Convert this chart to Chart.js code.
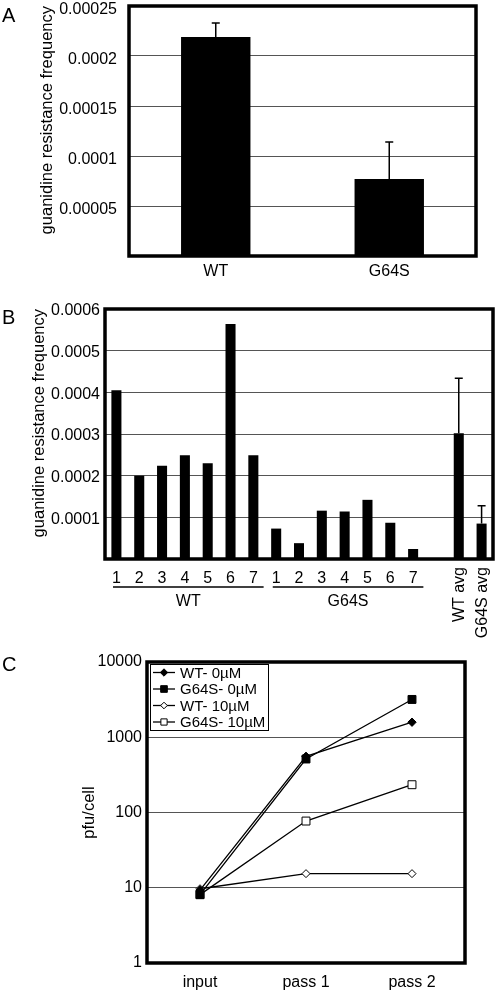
<!DOCTYPE html>
<html>
<head>
<meta charset="utf-8">
<script src="https://cdn.jsdelivr.net/npm/chart.js@4.4.1/dist/chart.umd.min.js"></script>
<style>
  body { margin: 0; background: #fff; width: 497px; height: 993px; position: relative; overflow: hidden; font-family: "Liberation Sans", Arial, sans-serif; }
  canvas { position: absolute; left: 0; }
  .letter { position: absolute; left: 2px; font-size: 20px; line-height: 1; color: #000; }
</style>
</head>
<body>
<canvas id="chartA" width="497" height="290" style="top:0px"></canvas>
<canvas id="chartB" width="497" height="340" style="top:300px"></canvas>
<canvas id="chartC" width="497" height="358" style="top:635px"></canvas>
<div class="letter" style="top:5px">A</div>
<div class="letter" style="top:307px">B</div>
<div class="letter" style="top:654px">C</div>

<script>
// panel A
const aCategories = ["WT", "G64S"];
const aMeans = [0.000219, 0.000077];
const aErrors = [0.000014, 0.000037];
const aTicks = [0.00005, 0.0001, 0.00015, 0.0002, 0.00025];
const aTickLabels = ["0.00005", "0.0001", "0.00015", "0.0002", "0.00025"];

// panel B
const bLabels = ["1", "2", "3", "4", "5", "6", "7", "1", "2", "3", "4", "5", "6", "7", "", "WT avg", "G64S avg"];
const bValues = [0.000405, 0.0002, 0.000224, 0.000249, 0.00023, 0.000564, 0.000249,
                 0.000073, 0.000038, 0.000116, 0.000114, 0.000142, 0.000087, 0.000024,
                 null, 0.000302, 0.000085];
const bErrors = [null, null, null, null, null, null, null, null, null, null, null, null, null, null, null, 0.000132, 0.000043];
const bGroups = [{ label: "WT", from: 0, to: 6 }, { label: "G64S", from: 7, to: 13 }];
const bTicks = [0.0001, 0.0002, 0.0003, 0.0004, 0.0005, 0.0006];
const bTickLabels = ["0.0001", "0.0002", "0.0003", "0.0004", "0.0005", "0.0006"];

// panel C
const cLabels = ["input", "pass 1", "pass 2"];
const wt0 = [9.3, 558, 1585];
const g64s0 = [8.1, 514, 3180];
const wt10 = [9.7, 15.4, 15.4];
const g64s10 = [8.1, 77, 234];
const cTicks = [1, 10, 100, 1000, 10000];
const cTickLabels = ["1", "10", "100", "1000", "10000"];

Chart.defaults.font.family = '"Liberation Sans", Arial, sans-serif';
Chart.defaults.font.size = 16;
Chart.defaults.color = "#000";

const gridColor = "#555";
const titleFont = { size: 16.5 };

// keep the axis boxes at fixed sizes so the plot areas line up with the figure
function fixWidth(w) {
  return s => { s.width = w; s.paddingTop = 0; s.paddingBottom = 0; };
}
function fixHeight(h) {
  return s => { s.height = h; s.paddingLeft = 0; s.paddingRight = 0; };
}
function setTicks(values) {
  return s => { s.ticks = values.map(v => ({ value: v })); };
}

const frame = {
  id: "frame",
  afterDatasetsDraw(chart) {
    const { ctx, chartArea: a } = chart;
    ctx.save();
    ctx.strokeStyle = "#000";
    ctx.lineWidth = 3.5;
    ctx.strokeRect(a.left, a.top, a.right - a.left, a.bottom - a.top);
    ctx.restore();
  }
};

function errorBars(errors) {
  return {
    id: "errorBars",
    afterDatasetsDraw(chart) {
      const meta = chart.getDatasetMeta(0);
      const y = chart.scales.y;
      const values = chart.data.datasets[0].data;
      const ctx = chart.ctx;
      ctx.save();
      ctx.strokeStyle = "#000";
      ctx.lineWidth = 1.5;
      meta.data.forEach((bar, i) => {
        if (errors[i] == null || values[i] == null) return;
        const top = y.getPixelForValue(values[i] + errors[i]);
        ctx.beginPath();
        ctx.moveTo(bar.x, bar.y);
        ctx.lineTo(bar.x, top);
        ctx.moveTo(bar.x - 4, top);
        ctx.lineTo(bar.x + 4, top);
        ctx.stroke();
      });
      ctx.restore();
    }
  };
}

// group underlines + rotated avg labels under panel B
const groupLabels = {
  id: "groupLabels",
  afterDraw(chart) {
    const { ctx, chartArea: a } = chart;
    const x = chart.scales.x;
    const slot = x.getPixelForValue(1) - x.getPixelForValue(0);
    ctx.save();
    ctx.strokeStyle = "#000";
    ctx.fillStyle = "#000";
    ctx.lineWidth = 1.5;
    ctx.font = '16px "Liberation Sans", Arial, sans-serif';
    bGroups.forEach(g => {
      const x1 = x.getPixelForValue(g.from) - 0.15 * slot;
      const x2 = x.getPixelForValue(g.to) + 0.45 * slot;
      ctx.beginPath();
      ctx.moveTo(x1, a.bottom + 28);
      ctx.lineTo(x2, a.bottom + 28);
      ctx.stroke();
      ctx.textAlign = "center";
      ctx.textBaseline = "middle";
      ctx.fillText(g.label, (x1 + x2) / 2, a.bottom + 43);
    });
    bLabels.forEach((lab, i) => {
      if (lab.length < 2) return;
      ctx.save();
      ctx.translate(x.getPixelForValue(i) + 1, a.bottom + 8);
      ctx.rotate(-Math.PI / 2);
      ctx.textAlign = "right";
      ctx.textBaseline = "middle";
      ctx.fillText(lab, 0, 0);
      ctx.restore();
    });
    ctx.restore();
  }
};

// boxed legend in the top-left corner of panel C
const boxLegend = {
  id: "boxLegend",
  afterDraw(chart) {
    const { ctx, chartArea: a } = chart;
    const x0 = a.left + 3, y0 = a.top + 2, w = 118, h = 66;
    ctx.save();
    ctx.fillStyle = "#fff";
    ctx.fillRect(x0, y0, w, h);
    ctx.strokeStyle = "#000";
    ctx.lineWidth = 1;
    ctx.strokeRect(x0 + 0.5, y0 + 0.5, w, h);
    chart.data.datasets.forEach((ds, i) => {
      const y = y0 + 8.5 + i * 16.5;
      ctx.strokeStyle = "#000";
      ctx.lineWidth = 1.3;
      ctx.beginPath();
      ctx.moveTo(x0 + 3, y);
      ctx.lineTo(x0 + 25, y);
      ctx.stroke();
      ctx.fillStyle = ds.pointBackgroundColor;
      ctx.lineWidth = 1;
      Chart.helpers.drawPoint(ctx, { pointStyle: ds.pointStyle, radius: ds.legendRadius, borderWidth: 1, rotation: 0 }, x0 + 14, y);
      ctx.fillStyle = "#000";
      ctx.font = '15px "Liberation Sans", Arial, sans-serif';
      ctx.textAlign = "left";
      ctx.textBaseline = "middle";
      ctx.fillText(ds.label, x0 + 30, y + 1);
    });
    ctx.restore();
  }
};

new Chart(document.getElementById("chartA"), {
  type: "bar",
  data: {
    labels: aCategories,
    datasets: [{ data: aMeans, backgroundColor: "#000", barPercentage: 0.4, categoryPercentage: 1 }]
  },
  options: {
    responsive: false,
    animation: false,
    layout: { padding: { top: 6, right: 21, left: 0, bottom: 0 } },
    plugins: { legend: { display: false }, tooltip: { enabled: false } },
    scales: {
      x: {
        grid: { display: false, drawTicks: false },
        border: { display: false },
        ticks: { padding: 6 },
        afterFit: fixHeight(34)
      },
      y: {
        min: 0,
        max: 0.00025,
        afterBuildTicks: setTicks(aTicks),
        ticks: { callback: (v, i) => aTickLabels[i], padding: 12, labelOffset: 4 },
        grid: { color: gridColor, drawTicks: false },
        border: { display: false },
        title: { display: true, text: "guanidine resistance frequency", font: titleFont, align: "end", padding: { top: 38, bottom: 0 } },
        afterFit: fixWidth(129)
      }
    }
  },
  plugins: [errorBars(aErrors), frame]
});

new Chart(document.getElementById("chartB"), {
  type: "bar",
  data: {
    labels: bLabels,
    datasets: [{ data: bValues, backgroundColor: "#000", barPercentage: 0.44, categoryPercentage: 1 }]
  },
  options: {
    responsive: false,
    animation: false,
    layout: { padding: { top: 9, right: 4, left: 0, bottom: 0 } },
    plugins: { legend: { display: false }, tooltip: { enabled: false } },
    scales: {
      x: {
        grid: { display: false, drawTicks: false },
        border: { display: false },
        ticks: { padding: 10, maxRotation: 0, autoSkip: false, callback: (v, i) => bLabels[i].length > 1 ? "" : bLabels[i] },
        afterFit: fixHeight(81)
      },
      y: {
        min: 0,
        max: 0.0006,
        afterBuildTicks: setTicks(bTicks),
        ticks: { callback: (v, i) => bTickLabels[i], padding: 5, labelOffset: 2 },
        grid: { color: gridColor, drawTicks: false },
        border: { display: false },
        title: { display: true, text: "guanidine resistance frequency", font: titleFont, align: "end", padding: { top: 30, bottom: 0 } },
        afterFit: fixWidth(105)
      }
    }
  },
  plugins: [errorBars(bErrors), frame, groupLabels]
});

new Chart(document.getElementById("chartC"), {
  type: "line",
  data: {
    labels: cLabels,
    datasets: [
      { label: "WT- 0\u00b5M", data: wt0, pointStyle: "rectRot", pointRadius: 4.2, legendRadius: 3.7, pointBackgroundColor: "#000" },
      { label: "G64S- 0\u00b5M", data: g64s0, pointStyle: "rect", pointRadius: 5.6, legendRadius: 4.7, pointBackgroundColor: "#000" },
      { label: "WT- 10\u00b5M", data: wt10, pointStyle: "rectRot", pointRadius: 4, legendRadius: 3.3, pointBackgroundColor: "#fff" },
      { label: "G64S- 10\u00b5M", data: g64s10, pointStyle: "rect", pointRadius: 5.6, legendRadius: 4.4, pointBackgroundColor: "#fff" }
    ].map(ds => Object.assign({
      borderColor: "#000",
      borderWidth: 1.3,
      pointBorderColor: "#000",
      pointBorderWidth: 1,
      fill: false,
      tension: 0
    }, ds))
  },
  options: {
    responsive: false,
    animation: false,
    layout: { padding: { top: 27, right: 32, left: 0, bottom: 0 } },
    plugins: { legend: { display: false }, tooltip: { enabled: false } },
    scales: {
      x: {
        offset: true,
        grid: { display: false, drawTicks: false },
        border: { display: false },
        ticks: { padding: 10 },
        afterFit: fixHeight(30)
      },
      y: {
        type: "logarithmic",
        min: 1,
        max: 10000,
        afterBuildTicks: setTicks(cTicks),
        ticks: { callback: (v, i) => cTickLabels[i], padding: 5 },
        grid: { color: gridColor, drawTicks: false },
        border: { display: false },
        title: { display: true, text: "pfu/cell", font: titleFont, padding: { top: 80, bottom: 0 } },
        afterFit: fixWidth(147)
      }
    }
  },
  plugins: [frame, boxLegend]
});
</script>
</body>
</html>
